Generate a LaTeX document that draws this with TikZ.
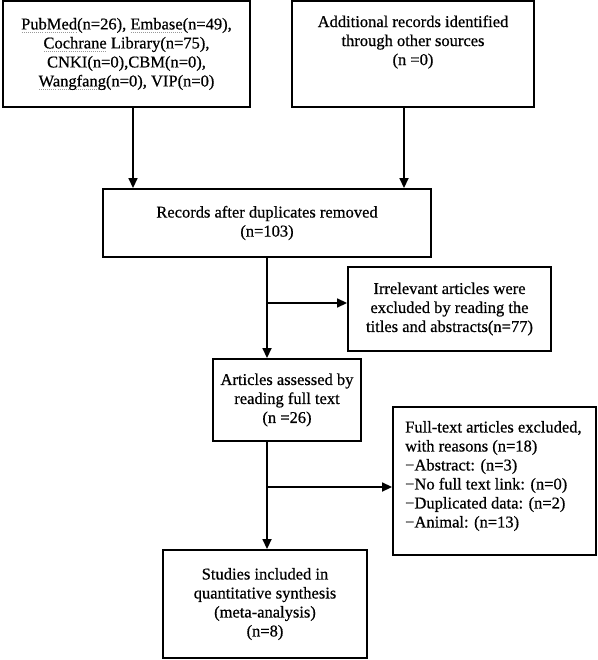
\documentclass[tikz,border=0pt]{standalone}
\usepackage{fontspec}
\setmainfont{Liberation Serif}[FakeBold=0.6]
\usetikzlibrary{arrows.meta,calc}
\newsavebox\spellbox
\newcommand\spellmark[1]{\leavevmode\sbox\spellbox{#1}\rlap{\raisebox{-3pt}{\color{gray!80}\hbox to \wd\spellbox{\xleaders\hbox to 2pt{\hss\rule{1pt}{0.9pt}\hss}\hfill}}}\usebox\spellbox}
\tikzset{
  box/.style={draw, line width=1.9pt, inner sep=0pt, align=center, font=\fontsize{16.5}{19}\selectfont},
  txt/.style={inner sep=0pt, align=center, font=\fontsize{16.5}{19}\selectfont},
  arr/.style={line width=1.7pt, -{Triangle[length=10pt,width=9pt]}}
}
\begin{document}
\begin{tikzpicture}[x=1pt,y=-1pt]
\useasboundingbox (0,0) rectangle (597,660);
\node[box, minimum width=247pt, minimum height=106pt] (b1) at (126.5,54)
  {\spellmark{PubMed}(n=26), \spellmark{Embase}(n=49),\\ \spellmark{Cochrane} Library(n=75),\\ CNKI(n=0),CBM(n=0),\\ \spellmark{Wangfang}(n=0), VIP(n=0)};
\node[box, minimum width=242pt, minimum height=106pt] (b2) at (413,54) {};
\node[txt] (t2) at (413,42) {Additional records identified\\ through other sources\\ (n =0)};
\node[box, minimum width=328pt, minimum height=68pt] (b3) at (267,223) {Records after duplicates removed\\ (n=103)};
\node[box, minimum width=203pt, minimum height=84pt] (b4) at (449.5,309) {Irrelevant articles were\\ excluded by reading the\\ titles and abstracts(n=77)};
\node[box, minimum width=148pt, minimum height=82pt] (b5) at (287,400) {Articles assessed by\\ reading full text\\ (n =26)};
\node[box, minimum width=203pt, minimum height=148pt] (b6) at (494.5,481) {};
\node[txt, align=left, anchor=west] (t6) at (405,476) {Full-text articles excluded,\\ with reasons (n=18)\\ −Abstract: (n=3)\\ −No full text link: (n=0)\\ −Duplicated data: (n=2)\\ −Animal: (n=13)};
\node[box, minimum width=204pt, minimum height=108pt] (b7) at (265,604) {Studies included in\\ quantitative synthesis\\ (meta-analysis)\\ (n=8)};
% connectors
\draw[arr] ([xshift=6.5pt]b1.south) -- ([xshift=6.5pt]b1.south |- b3.north);
\draw[arr] ([xshift=-9pt]b2.south) -- ([xshift=-9pt]b2.south |- b3.north);
\draw[arr] (b3.south) -- (b3.south |- b5.north);
\draw[arr] ($(b3.south |- b4.west)+(0,-6)$) -- ($(b4.west)+(0,-6)$);
\draw[arr] (b3.south |- b5.south) -- (b3.south |- b7.north);
\draw[arr] ($(b3.south |- b6.west)+(0,6)$) -- ($(b6.west)+(0,6)$);
\end{tikzpicture}
\end{document}
